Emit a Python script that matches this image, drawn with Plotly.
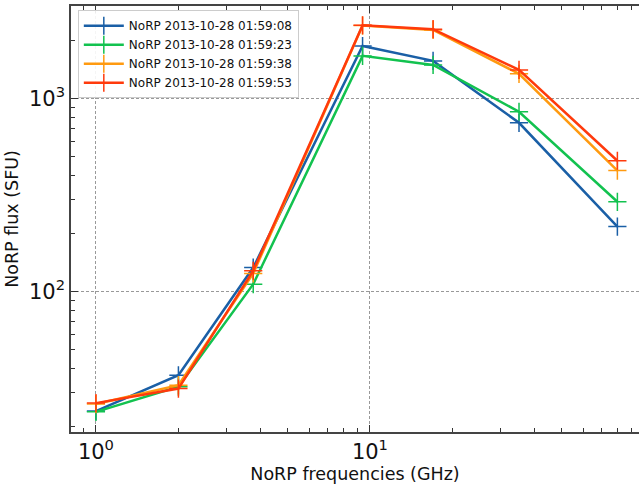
import plotly.graph_objects as go

freqs = [1.0, 2.0, 3.75, 9.4, 17.0, 35.0, 80.0]
labels = ["NoRP 2013-10-28 01:59:08", "NoRP 2013-10-28 01:59:23",
          "NoRP 2013-10-28 01:59:38", "NoRP 2013-10-28 01:59:53"]
flux_0808 = [23.9, 36.7, 133, 1880, 1574, 751, 217]
flux_0923 = [23.7, 32.0, 109, 1671, 1500, 857, 292]
flux_0938 = [26.0, 32.6, 124, 2400, 2280, 1348, 424]
flux_0953 = [26.3, 31.3, 128, 2410, 2300, 1413, 477]
colors = ["#1a5fa6", "#12c24f", "#ff9a10", "#ff3a0c"]
series = [flux_0808, flux_0923, flux_0938, flux_0953]

x_ticks = [1, 10]
x_ticktext = ["10<sup>0</sup>", "10<sup>1</sup>"]
y_ticks = [100, 1000]
y_ticktext = ["10<sup>2</sup>", "10<sup>3</sup>"]

fig = go.Figure()
for lab, vals, c in zip(labels, series, colors):
    fig.add_trace(go.Scatter(
        x=freqs, y=vals, name=lab, mode="lines+markers",
        line=dict(color=c, width=2.5),
        marker=dict(symbol="cross-thin", size=13, line=dict(color=c, width=1.5)),
    ))

axis_common = dict(
    showline=True, linecolor="#444", linewidth=1.5,
    ticks="inside", ticklen=7, tickwidth=1.2, tickcolor="#333",
    showgrid=True, gridcolor="#999", gridwidth=0.6, griddash="3px,2px",
    zeroline=False, automargin=False,
    tickfont=dict(family="DejaVu Sans", size=21, color="#111"),
    minor=dict(ticks="inside", ticklen=4, tickwidth=1, tickcolor="#333",
               dtick="D1", showgrid=False),
)

fig.update_xaxes(type="log", range=[-0.091, 1.982], tickvals=x_ticks, ticktext=x_ticktext,
                 mirror="allticks",
                 title=dict(text="NoRP frequencies (GHz)", font=dict(family="DejaVu Sans", size=17.5, color="#111"),
                            standoff=4),
                 **axis_common)
fig.update_yaxes(type="log", range=[1.270, 3.482], tickvals=y_ticks, ticktext=y_ticktext,
                 title=dict(text="NoRP flux (SFU)", font=dict(family="DejaVu Sans", size=17.5, color="#111"),
                            standoff=6),
                 **axis_common)

fig.update_layout(
    width=639, height=489,
    margin=dict(l=71, r=0, t=6, b=57, autoexpand=False),
    paper_bgcolor="white", plot_bgcolor="white",
    showlegend=True,
    legend=dict(x=0.012, y=0.99, xanchor="left", yanchor="top",
                bgcolor="rgba(255,255,255,0.9)", bordercolor="#ccc", borderwidth=1,
                font=dict(family="DejaVu Sans", size=12, color="#111"),
                tracegroupgap=0, itemwidth=40),
    font=dict(family="DejaVu Sans"),
)

fig.write_html("out.html", config={"displayModeBar": False},
               post_script="document.body.style.margin='0';document.body.style.overflow='hidden';")
